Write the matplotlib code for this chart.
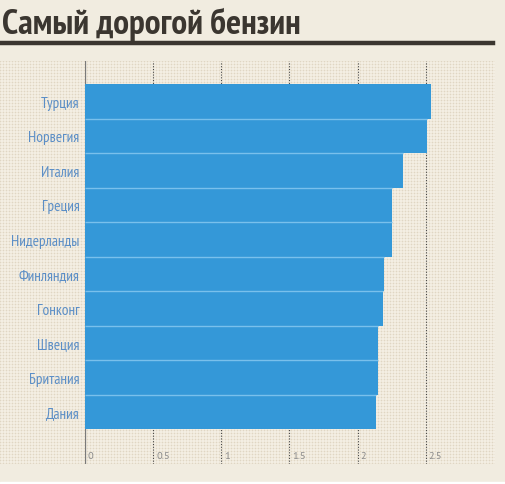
import numpy as np
import matplotlib
matplotlib.use("Agg")
import matplotlib.pyplot as plt
from matplotlib.transforms import blended_transform_factory

countries = ["Турция", "Норвегия", "Италия", "Греция", "Нидерланды",
             "Финляндия", "Гонконг", "Швеция", "Британия", "Дания"]
prices = [2.54, 2.51, 2.33, 2.255, 2.255, 2.195, 2.185, 2.15, 2.15, 2.135]
xticks = [0, 0.5, 1, 1.5, 2, 2.5]
xtick_labels = ["0", "0.5", "1", "1.5", "2", "2.5"]
title = "Самый дорогой бензин"

fam = ["PT Sans Narrow", "DejaVu Sans"]

W, H = 505, 485
bg = "#f1ece0"
fig = plt.figure(figsize=(W / 100, H / 100), dpi=100, facecolor=bg)

# dotted background pattern
top, bot, right = 62, 465, 495
bga = fig.add_axes([0, (H - bot) / H, right / W, (bot - top) / H])
ph, pw = bot - top, right
pat = np.ones((ph, pw, 3)) * np.array([0xf3, 0xee, 0xe3]) / 255
rows = (np.arange(ph) % 3 == 0)
cols = (np.arange(pw) % 3 == 0)
pat[rows, :, :] = np.array([0xee, 0xe7, 0xd9]) / 255
pat[:, cols, :] = np.array([0xee, 0xe7, 0xd9]) / 255
pat[np.ix_(rows, cols)] = np.array([0xdf, 0xd6, 0xc4]) / 255
bga.imshow(pat, aspect="auto", interpolation="nearest")
bga.axis("off")

# main axes
x0 = 85
ppu = 136.3
ax = fig.add_axes([x0 / W, (H - bot) / H, (right - x0) / W, (bot - top) / H])
ax.patch.set_alpha(0)
ax.set_xlim(0, (right - x0) / ppu)
ax.set_ylim(9.5 + (bot - 430) / 34.5, -0.5 - (85 - top) / 34.5)
for s in ax.spines.values():
    s.set_visible(False)

y = np.arange(len(countries))
ax.barh(y, prices, height=1.0, color="#3498d8", zorder=2)
for i in range(len(prices) - 1):
    ax.hlines(i + 0.5, 0, min(prices[i], prices[i + 1]), color="#79c0ec",
              lw=1.0, zorder=3)

ax.axvline(0, color="#7a7a7a", lw=0.9, zorder=1)
for v in xticks[1:]:
    ax.axvline(v, color="#444444", lw=0.8, ls=(0, (1, 1.5)), zorder=1)

tr = blended_transform_factory(ax.transData, ax.transAxes)
for v, lab in zip(xticks, xtick_labels):
    ax.text(v + 0.022, 0.02, lab, transform=tr, ha="left", va="center",
            fontsize=7.5, color="#8a8a8a", family=["PT Sans", "DejaVu Sans"])

ax.set_xticks([])
ax.set_yticks(y)
ax.set_yticklabels(countries, family=fam, fontsize=11, color="#5b8ec6")
ax.tick_params(axis="y", length=0, pad=4)

fig.text(2 / W, 1 - 34 / H, title, family=fam, fontweight="bold",
         fontsize=25.5, color="#3b3630", ha="left", va="baseline")
fig.add_artist(plt.Line2D([0, 493 / W], [1 - 44 / H, 1 - 44 / H],
                          color="#3b3630", lw=3.2, transform=fig.transFigure))
fig.add_artist(plt.Rectangle((0, 0), 1, 2 / H, color="white",
                             transform=fig.transFigure))

fig.savefig("out.png", dpi=100, facecolor=bg)
